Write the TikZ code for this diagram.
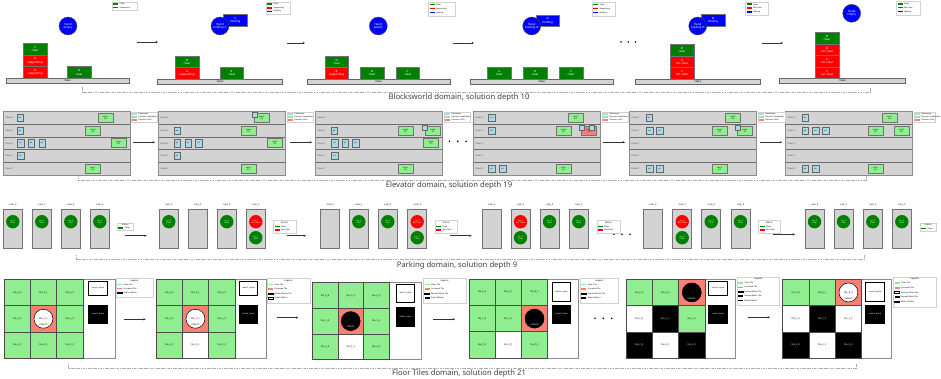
\documentclass[tikz,border=0pt]{standalone}
\usepackage{fontspec}
\setmainfont{DejaVu Sans}
\newfontfamily\capfont{Noto Sans}
\usetikzlibrary{arrows.meta}
\definecolor{tablegray}{HTML}{D3D3D3}
\definecolor{bwgreen}{HTML}{008000}
\definecolor{bwred}{HTML}{FF0000}
\definecolor{bwblue}{HTML}{0000FF}
\definecolor{tilegreen}{HTML}{90EE90}
\definecolor{tilesalmon}{HTML}{FA8072}
\definecolor{paxblue}{HTML}{ADD8E6}
\definecolor{elcoral}{HTML}{F08080}
\definecolor{sepgray}{HTML}{6E6E6E}
\tikzset{
 tinytxt/.style={font=\fontsize{2.3}{2.6}\selectfont, inner sep=0pt, align=center},
 bwblk/.style={draw=black!55, line width=0.4pt, minimum width=23.4pt, minimum height=11.6pt, inner sep=0pt, align=center, text=white, font=\fontsize{2.8}{3.1}\selectfont},
 bwtable/.style={draw=black!60, fill=tablegray, line width=0.5pt, minimum height=5pt, inner sep=0pt, font=\fontsize{2.2}{2.4}\selectfont},
 handst/.style={circle, fill=bwblue, draw=black!70, line width=0.3pt, minimum size=18pt, inner sep=0pt, align=center, text=white, font=\fontsize{2.8}{3.1}\selectfont},
 lgbox/.style={draw=black!18, fill=white, line width=0.3pt},
 lgtext/.style={font=\fontsize{1.9}{2.1}\selectfont, anchor=west, inner sep=0pt},
 lgtitle/.style={font=\fontsize{2.1}{2.3}\selectfont, inner sep=0pt},
 flow/.style={-{Stealth[length=2.4pt,width=2.2pt]}, line width=0.5pt, draw=black!80},
 bracketline/.style={draw=black!32, line width=0.9pt, dash pattern=on 1.2pt off 0.5pt},
 capst/.style={font=\capfont\fontsize{7.7}{8.5}\selectfont, text=black!75, inner sep=0pt},
 eltext/.style={font=\fontsize{2.1}{2.3}\selectfont, inner sep=0pt, text=black!80},
 paxst/.style={draw=black!60, fill=paxblue, line width=0.4pt, minimum width=6.5pt, minimum height=7.3pt, inner sep=0pt, font=\fontsize{1.8}{2}\selectfont},
 spaxst/.style={draw=black!60, fill=paxblue, line width=0.4pt, minimum width=5pt, minimum height=5pt, inner sep=0pt},
 elvst/.style={draw=black!55, fill=tilegreen, line width=0.5pt, minimum width=15pt, minimum height=9pt, inner sep=0pt, align=center, font=\fontsize{1.8}{2}\selectfont},
 curbst/.style={draw=black!55, fill=tablegray, line width=0.6pt, minimum width=19pt, minimum height=39.3pt, inner sep=0pt},
 curblab/.style={font=\fontsize{2.2}{2.4}\selectfont, inner sep=0pt},
 carst/.style={circle, minimum size=13.4pt, inner sep=0pt, align=center, text=white, font=\fontsize{1.9}{2.1}\selectfont},
 ftile/.style={draw=black!70, line width=0.5pt, inner sep=0pt, font=\fontsize{2.2}{2.4}\selectfont},
 tg/.style={fill=tilegreen}, ts/.style={fill=tilesalmon}, tw/.style={fill=white}, tb/.style={fill=black, text=white},
 ftframe/.style={draw=black!45, line width=0.6pt},
 robotst/.style={circle, draw=black, line width=0.5pt, minimum size=19pt, inner sep=0pt},
 sidebox/.style={draw=black, line width=0.6pt, minimum width=18.5pt, inner sep=0pt, font=\fontsize{1.9}{2.1}\selectfont},
}
\newcommand\bwblock[5]{\node[bwblk,fill=#2] (#1) at (#3,#4) {#5};}
\newcommand\bwtab[4]{\node[bwtable,minimum width=#4pt] (#1) at (#2,#3) {TABLE};}
\newcommand\bwhand[4]{\node[handst] (#1) at (#2,#3) {#4};}
\newcommand\lgbx[4]{\filldraw[lgbox] (#1,#2) rectangle (#3,#4);}
\newcommand\lgent[5]{\path[#4] (#2,#3-0.8) rectangle ++(5,1.6); \node[lgtext] (#1) at (#2+6.3,#3) {#5};}
\newcommand\elpanel[2]{%
 \fill[tablegray] (#2,111.7) rectangle (#2+127.5,175);
 \foreach \ey in {124.3,137,149.7,162.3} {\draw[sepgray, line width=0.9pt] (#2,\ey) -- (#2+127.5,\ey);}
 \draw[black!45, line width=0.5pt] (#2,111.7) rectangle (#2+127.5,175);
 \foreach \fl/\ey in {4/118,3/130.65,2/143.35,1/156,0/168.65} {\node[eltext, anchor=west] (#1f\fl) at (#2+2.5,\ey) {Floor \fl};}
}
\newcommand\pax[4]{\node[paxst] (#1) at (#2,#3) {#4};}
\newcommand\spax[3]{\node[spaxst] (#1) at (#2,#3) {};}
\newcommand\elv[4]{\node[elvst] (#1) at (#2,#3) {#4};}
\newcommand\pkc[3]{\node[curbst] (#1) at (#2+9.5,228.7) {}; \node[curblab] (#1l) at (#2+9.5,205.3) {#3};}
\newcommand\pkg[3]{\node[carst,fill=bwgreen] (#1) at (#2+9.5,221.7) {#3\\Clear};}
\newcommand\pkr[4]{\node[carst,fill=bwred] (#1a) at (#2+9.5,221.7) {#3\\Not Clear}; \node[carst,fill=bwgreen] (#1b) at (#2+9.5,237.7) {#4\\Clear};}
\newcommand\ftgrid[5]{%
 \foreach \ftc [count=\fti from 0] in {#5} {%
  \pgfmathtruncatemacro\ftr{div(\fti,3)}%
  \pgfmathtruncatemacro\ftk{mod(\fti,3)}%
  \node[ftile,\ftc,minimum size=#4pt] (#1t\ftr\ftk) at ({#2+(\ftk+0.5)*#4},{#3+(\ftr+0.5)*#4}) {tile\_\ftr\_\ftk};}}
\newcommand\ftframe[4]{\draw[ftframe] (#1,#2) rectangle (#3,#4);}
\newcommand\robw[4]{\node[robotst,fill=white] (#1) at (#2,#3) {}; \node[tinytxt] (#1t) at (#2,#3) {#4}; \node[tinytxt] (#1l) at (#2,#3+6) {robot1};}
\newcommand\robb[3]{\node[robotst,fill=black] (#1) at (#2,#3) {}; \node[tinytxt,text=white] (#1l) at (#2,#3+6) {robot1};}
\newcommand\sidew[4]{\node[sidebox,fill=white,minimum height=#4pt] (#1) at (#2,#3) {robot1\_white};}
\newcommand\sidek[4]{\node[sidebox,fill=black,text=white,minimum height=#4pt] (#1) at (#2,#3) {robot1\_black};}
\newcommand\domcap[7]{\draw[bracketline] (#2,#4-4.5) -- (#2,#4) -- (#3,#4) -- (#3,#4-4.5); \node[capst] (#1) at (#5,#6) {#7};}
\newcommand\threedots[3]{\foreach \dx in {0,1,2} {\fill[black] (#1+\dx*#3,#2) circle (0.9);}}

\begin{document}
\begin{tikzpicture}[x=1pt,y=-1pt]
\useasboundingbox (0,0) rectangle (941,379);
\fill[white] (0,0) rectangle (941,379);

%================ BLOCKSWORLD ================
% panel 1
\bwtab{t1}{67.7}{80.8}{123.3}
\bwblock{p1c}{bwgreen}{35}{49.2}{C\\clear}
\bwblock{p1d}{bwred}{35}{60.8}{D\\supporting}
\bwblock{p1a}{bwred}{35}{72.5}{A\\supporting}
\bwblock{p1b}{bwgreen}{79}{72.5}{B\\clear}
\bwhand{h1}{68}{26}{Hand\\empty}
\lgbx{111.7}{1.7}{137.3}{10}
\lgent{l1a}{113.2}{4.1}{fill=bwgreen}{Clear}
\lgent{l1b}{113.2}{7.5}{fill=bwred}{Supporting}
% panel 2
\bwtab{t2}{220}{81.5}{125.4}
\bwblock{p2d}{bwgreen}{187}{61.6}{D\\clear}
\bwblock{p2a}{bwred}{187}{73.2}{A\\supporting}
\bwblock{p2b}{bwgreen}{231.7}{73.2}{B\\clear}
\bwblock{p2c}{bwblue}{235.3}{20.5}{C\\holding}
\bwhand{h2}{220}{26}{Hand\\holding C}
\lgbx{265.7}{1.7}{290}{14}
\lgent{l2a}{267}{4.2}{fill=bwgreen}{Clear}
\lgent{l2b}{267}{7.8}{fill=bwred}{Supporting}
\lgent{l2c}{267}{11.4}{fill=bwblue}{Holding}
% panel 3
\bwtab{t3}{378.7}{81.5}{142.7}
\bwblock{p3d}{bwgreen}{336.7}{61.6}{D\\clear}
\bwblock{p3a}{bwred}{336.7}{73.2}{A\\supporting}
\bwblock{p3b}{bwgreen}{372}{73.2}{B\\clear}
\bwblock{p3c}{bwgreen}{407.7}{73.2}{C\\clear}
\bwhand{h3}{378.3}{26}{Hand\\empty}
\lgbx{428}{1.7}{455}{16}
\lgent{l3a}{429.5}{4.5}{fill=bwgreen}{Clear}
\lgent{l3b}{429.5}{8.5}{fill=bwred}{Supporting}
\lgent{l3c}{429.5}{12.5}{fill=bwblue}{Holding}
% panel 4
\bwtab{t4}{541.7}{81.5}{143.3}
\bwblock{p4a}{bwgreen}{499.3}{73.2}{A\\clear}
\bwblock{p4b}{bwgreen}{535}{73.2}{B\\clear}
\bwblock{p4c}{bwgreen}{571}{73.2}{C\\clear}
\bwblock{p4d}{bwblue}{547.7}{20.8}{D\\holding}
\bwhand{h4}{531.7}{26}{Hand\\holding D}
\lgbx{591.7}{1.7}{615}{16}
\lgent{l4a}{593}{4.5}{fill=bwgreen}{Clear}
\lgent{l4b}{593}{8.5}{fill=bwred}{Supporting}
\lgent{l4c}{593}{12.5}{fill=bwblue}{Holding}
% panel 5
\bwtab{t5}{697.8}{81.5}{125.7}
\bwblock{p5b}{bwgreen}{682}{50}{B\\clear}
\bwblock{p5a}{bwred}{682}{61.6}{A\\not clear}
\bwblock{p5c}{bwred}{682}{73.2}{C\\not clear}
\bwblock{p5d}{bwblue}{713}{20.5}{D\\holding}
\bwhand{h5}{697.7}{26}{Hand\\holding D}
\lgbx{745}{1.7}{768.3}{15}
\lgent{l5a}{746.5}{4.3}{fill=bwgreen}{Clear}
\lgent{l5b}{746.5}{8.2}{fill=bwred}{Not clear}
\lgent{l5c}{746.5}{12.1}{fill=bwblue}{Holding}
% panel 6
\bwtab{t6}{842.5}{81.2}{126.4}
\bwblock{p6d}{bwgreen}{827}{38.1}{D\\clear}
\bwblock{p6b}{bwred}{827}{49.7}{B\\not clear}
\bwblock{p6a}{bwred}{827}{61.3}{A\\not clear}
\bwblock{p6c}{bwred}{827}{72.9}{C\\not clear}
\bwhand{h6}{851.7}{13.3}{Hand\\empty}
\lgbx{896}{1}{920}{15}
\lgent{l6a}{897.5}{3.8}{fill=bwgreen}{Clear}
\lgent{l6b}{897.5}{7.7}{fill=bwred}{Not clear}
\lgent{l6c}{897.5}{11.6}{fill=bwblue}{Holding}
% arrows
\coordinate (ba1) at (137,42); \coordinate (ba2) at (158,42);
\coordinate (ba3) at (287,43); \coordinate (ba4) at (305,43);
\coordinate (ba5) at (453,43); \coordinate (ba6) at (474,43);
\coordinate (ba7) at (762,43); \coordinate (ba8) at (783,43);
\draw[flow] (ba1) -- (ba2);
\draw[flow] (ba3) -- (ba4);
\draw[flow] (ba5) -- (ba6);
\draw[flow] (ba7) -- (ba8);
\threedots{621}{42}{7.2}
\domcap{cap1}{82}{870}{92}{459}{97.2}{Blocksworld domain, solution depth 10}

%================ ELEVATOR ================
\elpanel{e1}{3}
\elpanel{e2}{158}
\elpanel{e3}{315}
\elpanel{e4}{473}
\elpanel{e5}{629}
\elpanel{e6}{785}
% panel 1
\pax{e1p1}{20}{118}{p1}
\elv{e1v1}{105.5}{117.5}{slow1\\0/2}
\pax{e1p4}{20}{130.7}{p4}
\elv{e1v2}{93}{130.5}{slow0\\0/2}
\pax{e1p0}{20.5}{143.2}{p0}
\pax{e1p2}{31}{143.2}{p2}
\pax{e1p3}{42}{143.2}{p3}
\elv{e1v3}{118.5}{142.6}{fast0\\0/3}
\pax{e1p5}{20.5}{155.8}{p5}
\elv{e1v4}{93}{168.6}{fast1\\0/3}
% panel 2
\elv{e2v1}{261.5}{117.5}{slow1\\1/2}
\spax{e2s1}{254.5}{115.2}
\pax{e2p4}{177}{130.7}{p4}
\elv{e2v2}{248.5}{130.5}{slow0\\0/2}
\pax{e2p0}{177}{143.2}{p0}
\pax{e2p2}{188}{143.2}{p2}
\pax{e2p3}{198.5}{143.2}{p3}
\elv{e2v3}{275}{142.6}{fast0\\0/3}
\pax{e2p5}{177}{155.8}{p5}
\elv{e2v4}{248.5}{168.6}{fast1\\0/3}
% panel 3
\pax{e3p4}{334}{130.7}{p4}
\elv{e3v2}{405.5}{130.5}{slow0\\0/2}
\elv{e3v1}{433}{130.5}{slow1\\1/2}
\spax{e3s1}{425}{128}
\pax{e3p0}{334.5}{143.2}{p0}
\pax{e3p2}{345}{143.2}{p2}
\pax{e3p3}{355.5}{143.2}{p3}
\elv{e3v3}{431}{142.6}{fast0\\0/3}
\pax{e3p5}{334.5}{155.8}{p5}
\elv{e3v4}{405.5}{168.6}{fast1\\0/3}
% panel 4
\pax{e4p1}{491.5}{118}{p1}
\elv{e4v1}{575.5}{117.5}{fast0\\0/3}
\pax{e4p4}{491.5}{130.7}{p4}
\elv{e4v2}{563.5}{130.5}{slow0\\0/2}
\node[elvst,fill=elcoral] (e4v3) at (589,131.2) {slow1\\2/2};
\spax{e4s1}{582}{128}
\spax{e4s2}{591.5}{128}
\pax{e4p0}{491.5}{168.6}{p0}
\pax{e4p5}{502.5}{168.6}{p5}
\elv{e4v4}{563.5}{168.6}{fast1\\0/3}
% panel 5
\pax{e5p1}{649}{118}{p1}
\elv{e5v1}{733}{117.5}{fast0\\0/3}
\pax{e5p4}{649.5}{130.7}{p4}
\pax{e5p2}{659.5}{130.7}{p2}
\elv{e5v2}{719.5}{130.5}{slow0\\0/2}
\elv{e5v3}{745}{130.5}{slow1\\1/2}
\spax{e5s1}{738}{127.5}
\pax{e5p0}{649.5}{168.6}{p0}
\pax{e5p5}{659.5}{168.6}{p5}
\elv{e5v4}{719.5}{168.6}{fast1\\0/3}
% panel 6
\pax{e6p1}{805}{118}{p1}
\elv{e6v1}{889.5}{117.5}{fast0\\0/3}
\pax{e6p4}{805}{130.7}{p4}
\pax{e6p2}{815.5}{130.7}{p2}
\pax{e6p3}{825.5}{130.7}{p3}
\elv{e6v2}{875.5}{130.5}{slow0\\0/2}
\elv{e6v3}{901.5}{130.5}{slow1\\0/2}
\pax{e6p0}{805}{168.6}{p0}
\pax{e6p5}{815.5}{168.6}{p5}
\elv{e6v4}{875.5}{168.6}{fast1\\0/3}
% legends
\foreach \lx/\lr/\ln in {131/157/1, 287/313/2, 444/470/3, 602/628/4, 758/785/5, 914/935/6} {
 \lgbx{\lx}{112}{\lr}{122.5}
 \lgent{el\ln a}{\lx+1.2}{114.3}{fill=paxblue}{Passenger}
 \lgent{el\ln b}{\lx+1.2}{117.3}{fill=tilegreen}{Elevator (available)}
 \lgent{el\ln c}{\lx+1.2}{120.3}{fill=elcoral}{Elevator (full)}
}
% arrows
\coordinate (ea1) at (133.3,142.3); \coordinate (ea2) at (155,142.3);
\coordinate (ea3) at (290,142.3); \coordinate (ea4) at (312,142.3);
\coordinate (ea5) at (603,142.3); \coordinate (ea6) at (625,142.3);
\coordinate (ea7) at (760,142.3); \coordinate (ea8) at (782,142.3);
\draw[flow] (ea1) -- (ea2);
\draw[flow] (ea3) -- (ea4);
\draw[flow] (ea5) -- (ea6);
\draw[flow] (ea7) -- (ea8);
\threedots{449.5}{141.3}{8.3}
\domcap{cap2}{78.3}{866.7}{180.8}{449}{185.8}{Elevator domain, solution depth 19}

%================ PARKING ================
% panel 1
\pkc{k1c0}{3.3}{curb\_0} \pkc{k1c1}{32.3}{curb\_1} \pkc{k1c2}{61.3}{curb\_2} \pkc{k1c3}{90.3}{curb\_3}
\pkg{k1a}{3.3}{car\_0} \pkg{k1b}{32.3}{car\_1} \pkg{k1c}{61.3}{car\_2} \pkg{k1d}{90.3}{car\_3}
% panel 2
\pkc{k2c0}{159.3}{curb\_0} \pkc{k2c1}{188.3}{curb\_1} \pkc{k2c2}{217.3}{curb\_2} \pkc{k2c3}{246.3}{curb\_3}
\pkg{k2a}{159.3}{car\_0} \pkg{k2c}{217.3}{car\_2} \pkr{k2d}{246.3}{car\_3}{car\_1}
% panel 3
\pkc{k3c0}{320.7}{curb\_0} \pkc{k3c1}{349.3}{curb\_1} \pkc{k3c2}{378.3}{curb\_2} \pkc{k3c3}{407.7}{curb\_3}
\pkg{k3b}{349.3}{car\_0} \pkg{k3c}{378.3}{car\_2} \pkr{k3d}{407.7}{car\_3}{car\_1}
% panel 4
\pkc{k4c0}{482.3}{curb\_0} \pkc{k4c1}{511}{curb\_1} \pkc{k4c2}{540}{curb\_2} \pkc{k4c3}{569.3}{curb\_3}
\pkr{k4b}{511}{car\_0}{car\_3} \pkg{k4c}{540}{car\_2} \pkg{k4d}{569.3}{car\_1}
% panel 5
\pkc{k5c0}{643.3}{curb\_0} \pkc{k5c1}{672.7}{curb\_1} \pkc{k5c2}{701.7}{curb\_2} \pkc{k5c3}{731}{curb\_3}
\pkr{k5b}{672.7}{car\_0}{car\_3} \pkg{k5c}{701.7}{car\_2} \pkg{k5d}{731}{car\_1}
% panel 6
\pkc{k6c0}{805}{curb\_0} \pkc{k6c1}{834}{curb\_1} \pkc{k6c2}{863.3}{curb\_2} \pkc{k6c3}{892.3}{curb\_3}
\pkg{k6a}{805}{car\_0} \pkg{k6b}{834}{car\_1} \pkg{k6c}{863.3}{car\_2} \pkg{k6d}{892.3}{car\_3}
% arrows (under legends)
\coordinate (ka1) at (125,235.7); \coordinate (ka2) at (146.7,235.7);
\coordinate (ka3) at (286.7,235.7); \coordinate (ka4) at (306,235.7);
\coordinate (ka5) at (450,235.7); \coordinate (ka6) at (471.7,235.7);
\coordinate (ka7) at (773.3,234.3); \coordinate (ka8) at (795,234.3);
\draw[flow] (ka1) -- (ka2);
\draw[flow] (ka3) -- (ka4);
\draw[flow] (ka5) -- (ka6);
\draw[flow] (ka7) -- (ka8);
\threedots{614}{234.3}{8}
% legends
\lgbx{117.3}{223.3}{133.3}{230}
\node[lgtitle] (kl1t) at (125.3,225) {Status};
\lgent{kl1a}{118.3}{228}{fill=bwgreen}{Clear}
\foreach \lx/\lr/\ln in {273.3/295.7/2, 435/457.3/3, 596.7/620/4, 758.3/780/5} {
 \lgbx{\lx}{220}{\lr}{233.3}
 \node[lgtitle] (kl\ln t) at ({(\lx+\lr)/2},222.6) {Status};
 \lgent{kl\ln a}{\lx+1.2}{226.6}{fill=bwgreen}{Clear}
 \lgent{kl\ln b}{\lx+1.2}{230.2}{fill=bwred}{Not Clear}
}
\lgbx{920}{223.3}{936}{231}
\node[lgtitle] (kl6t) at (928,225) {Status};
\lgent{kl6a}{921}{228.5}{fill=bwgreen}{Clear}
\domcap{cap3}{76}{864.3}{259.3}{457}{265.6}{Parking domain, solution depth 9}

%================ FLOOR TILES ================
% panel 1
\ftframe{4}{279.3}{115}{358.2}
\ftgrid{f1}{4}{279.3}{26.3}{tg,tg,tg,tg,ts,tg,tg,tg,tg}
\robw{f1r}{43.45}{318.75}{tile\_1\_1}
\sidew{f1w}{98}{288.3}{13.3}
\sidek{f1k}{98}{314.2}{18.3}
\lgbx{116}{278.3}{152.7}{296.7}
\node[lgtitle] (f1lt) at (134.3,280.6) {Legend};
\lgent{f1la}{117.2}{284.3}{fill=tilegreen}{Clear Tile}
\lgent{f1lb}{117.2}{288.5}{fill=tilesalmon}{Occupied Tile}
\lgent{f1lc}{117.2}{292.7}{fill=white,draw=black,line width=0.3pt}{Robot (White)}
% panel 2
\ftframe{156}{279.3}{266.7}{358.2}
\ftgrid{f2}{156}{279.3}{26.3}{tg,tg,tg,tg,ts,tg,tg,tw,tg}
\robw{f2r}{195.45}{318.75}{tile\_1\_1}
\sidew{f2w}{248.5}{288.3}{13.3}
\sidek{f2k}{248.5}{314.2}{18.3}
\lgbx{266.7}{278.3}{310}{303.3}
\node[lgtitle] (f2lt) at (288.3,280.6) {Legend};
\lgent{f2la}{268}{284.6}{fill=tilegreen}{Clear Tile}
\lgent{f2lb}{268}{289.1}{fill=tilesalmon}{Occupied Tile}
\lgent{f2lc}{268}{293.6}{fill=white,draw=black,line width=0.3pt}{Painted White Tile}
\lgent{f2ld}{268}{298.1}{fill=white,draw=black,line width=0.3pt}{Robot (White)}
% panel 3
\ftframe{312.3}{282.7}{421.7}{359.5}
\ftgrid{f3}{312.3}{282.7}{25.6}{tg,tg,tg,tg,ts,tg,tg,tw,tg}
\robb{f3r}{350.7}{321.1}
\sidew{f3w}{405.5}{293.3}{18.7}
\sidek{f3k}{405.5}{316.7}{18.7}
\lgbx{423.3}{278.3}{465.7}{303.3}
\node[lgtitle] (f3lt) at (444.5,280.6) {Legend};
\lgent{f3la}{424.6}{284.6}{fill=tilegreen}{Clear Tile}
\lgent{f3lb}{424.6}{289.1}{fill=tilesalmon}{Occupied Tile}
\lgent{f3lc}{424.6}{293.6}{fill=white,draw=black,line width=0.3pt}{Painted White Tile}
\lgent{f3ld}{424.6}{298.1}{fill=black}{Robot (Black)}
% panel 4
\ftframe{469}{279.3}{578.3}{358.2}
\ftgrid{f4}{469}{279.3}{26.2}{tg,tg,tg,tg,tg,ts,tg,tw,tg}
\robb{f4r}{534.5}{318.6}
\sidew{f4w}{561.5}{292}{19.3}
\sidek{f4k}{561.5}{314.2}{18.3}
\lgbx{580}{278.3}{618.3}{303.3}
\node[lgtitle] (f4lt) at (599.2,280.6) {Legend};
\lgent{f4la}{581.3}{284.6}{fill=tilegreen}{Clear Tile}
\lgent{f4lb}{581.3}{289.1}{fill=tilesalmon}{Occupied Tile}
\lgent{f4lc}{581.3}{293.6}{fill=white,draw=black,line width=0.3pt}{Painted White Tile}
\lgent{f4ld}{581.3}{298.1}{fill=black}{Robot (Black)}
% panel 5
\ftframe{626}{279.3}{735}{358.2}
\ftgrid{f5}{626}{279.3}{26.3}{tg,tg,ts,tw,tb,tg,tb,tw,tb}
\robb{f5r}{691.75}{292.45}
\sidew{f5w}{718}{288.3}{13.3}
\sidek{f5k}{718}{314.2}{18.3}
\lgbx{736.7}{276.7}{779.3}{305}
\node[lgtitle] (f5lt) at (758,279) {Legend};
\lgent{f5la}{738}{283}{fill=tilegreen}{Clear Tile}
\lgent{f5lb}{738}{287.4}{fill=tilesalmon}{Occupied Tile}
\lgent{f5lc}{738}{291.8}{fill=white,draw=black,line width=0.3pt}{Painted White Tile}
\lgent{f5ld}{738}{296.2}{fill=black}{Painted Black Tile}
\lgent{f5le}{738}{300.6}{fill=black}{Robot (Black)}
% panel 6
\ftframe{782.7}{279.3}{891.7}{358.2}
\ftgrid{f6}{782.7}{279.3}{26.3}{tg,tg,ts,tw,tb,tw,tb,tw,tb}
\robw{f6r}{848.45}{292.45}{tile\_0\_2}
\sidew{f6w}{875}{292}{19.3}
\sidek{f6k}{875}{314.2}{18.3}
\lgbx{893.3}{276.7}{936}{306.7}
\node[lgtitle] (f6lt) at (914.6,279) {Legend};
\lgent{f6la}{894.6}{283.2}{fill=tilegreen}{Clear Tile}
\lgent{f6lb}{894.6}{287.8}{fill=tilesalmon}{Occupied Tile}
\lgent{f6lc}{894.6}{292.4}{fill=white,draw=black,line width=0.3pt}{Painted White Tile}
\lgent{f6ld}{894.6}{297}{fill=black}{Painted Black Tile}
\lgent{f6le}{894.6}{301.6}{fill=white,draw=black,line width=0.3pt}{Robot (White)}
% arrows
\coordinate (fa1) at (124,319.3); \coordinate (fa2) at (145.7,319.3);
\coordinate (fa3) at (276.7,317.7); \coordinate (fa4) at (298.3,317.7);
\coordinate (fa5) at (432.7,319.3); \coordinate (fa6) at (455,319.3);
\coordinate (fa7) at (748.3,317.3); \coordinate (fa8) at (770,317.3);
\draw[flow] (fa1) -- (fa2);
\draw[flow] (fa3) -- (fa4);
\draw[flow] (fa5) -- (fa6);
\draw[flow] (fa7) -- (fa8);
\threedots{595}{318.3}{8.3}
\domcap{cap4}{68.3}{856.7}{368.3}{459}{373.4}{Floor Tiles domain, solution depth 21}
\end{tikzpicture}
\end{document}
